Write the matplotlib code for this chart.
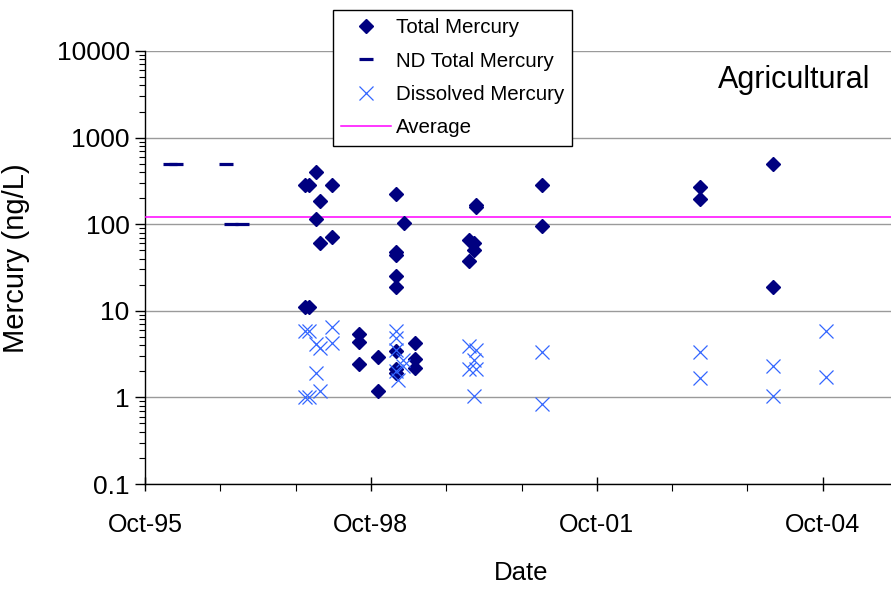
import matplotlib
matplotlib.use("Agg")
import matplotlib.pyplot as plt
import matplotlib.dates as mdates
from matplotlib.ticker import FuncFormatter, LogLocator, NullFormatter
import pandas as pd

plt.rcParams['font.family'] = ['Liberation Sans', 'DejaVu Sans']

# Total mercury detections (ng/L)
total_dates = [
    '1997-11-15', '1997-11-15', '1997-12-04', '1997-12-04',
    '1998-01-06', '1998-01-06', '1998-01-28', '1998-01-28',
    '1998-03-24', '1998-03-24',
    '1998-08-04', '1998-08-04', '1998-08-04',
    '1998-11-05', '1998-11-05',
    '1999-01-29', '1999-01-29', '1999-01-29', '1999-01-29', '1999-01-29',
    '1999-01-29', '1999-01-29', '1999-01-29',
    '1999-03-10',
    '1999-05-02', '1999-05-02', '1999-05-02',
    '2000-01-21', '2000-01-21', '2000-02-14', '2000-02-14',
    '2000-02-22', '2000-02-22',
    '2001-01-06', '2001-01-06',
    '2003-02-13', '2003-02-13',
    '2004-02-03', '2004-02-03',
]
total_values = [
    280, 11, 280, 11,
    400, 115, 185, 60,
    280, 71,
    5.4, 4.4, 2.4,
    2.9, 1.2,
    225, 48, 44, 25, 19,
    3.4, 2.1, 1.9,
    103,
    4.3, 2.8, 2.2,
    66, 38, 60, 51,
    165, 160,
    280, 96,
    270, 195,
    490, 19,
]

# Non-detect total mercury (reporting limits, ng/L)
nd_dates = ['1996-01-30', '1996-02-28', '1996-10-29', '1996-11-21', '1997-01-13']
nd_values = [500, 500, 500, 100, 100]

# Dissolved mercury (ng/L)
dissolved_dates = [
    '1997-11-15', '1997-11-15', '1997-12-04', '1997-12-04',
    '1998-01-06', '1998-01-06', '1998-01-28', '1998-01-28',
    '1998-03-24', '1998-03-24',
    '1999-01-29', '1999-01-29', '1999-01-29', '1999-01-29',
    '1999-02-09',
    '1999-03-08', '1999-03-08',
    '2000-01-21', '2000-01-21', '2000-02-14', '2000-02-14',
    '2000-02-22', '2000-02-22',
    '2001-01-06', '2001-01-06',
    '2003-02-13', '2003-02-13',
    '2004-02-03', '2004-02-03',
    '2004-10-16', '2004-10-16',
]
dissolved_values = [
    5.8, 1.0, 5.8, 1.0,
    4.1, 1.9, 3.7, 1.2,
    6.5, 4.3,
    5.9, 4.9, 3.5, 2.0,
    1.6,
    2.7, 2.3,
    3.9, 2.1, 2.7, 1.04,
    3.5, 2.1,
    3.3, 0.84,
    3.3, 1.67,
    2.3, 1.04,
    5.9, 1.73,
]

average_value = 120
x_start, x_end = '1995-10-01', '2005-10-01'

navy = '#000080'
blue = '#3366FF'

fig = plt.figure(figsize=(8.91, 5.90), dpi=100)
ax = fig.add_axes([145 / 891, 1 - 484 / 590, (898 - 145) / 891, (484 - 51) / 590])

ax.plot(pd.to_datetime(total_dates), total_values, linestyle='none', marker='D',
        ms=7.1, color=navy, mec=navy, label='Total Mercury', zorder=4)
ax.plot(pd.to_datetime(nd_dates), nd_values, linestyle='none', marker='_',
        ms=10, mew=2.3, color=navy, label='ND Total Mercury', zorder=4)
ax.plot(pd.to_datetime(dissolved_dates), dissolved_values, linestyle='none', marker='x',
        ms=10.5, mew=0.9, color=blue, label='Dissolved Mercury', zorder=5)
ax.axhline(average_value, color='#FF00FF', lw=1.1, label='Average', zorder=3)

ax.set_yscale('log')
ax.set_ylim(0.1, 10000)
ax.set_xlim(pd.Timestamp(x_start), pd.Timestamp(x_end))

ax.yaxis.set_major_locator(LogLocator(base=10, numticks=10))
ax.yaxis.set_major_formatter(FuncFormatter(lambda v, _: f"{v:g}"))
ax.yaxis.set_minor_locator(LogLocator(base=10, subs=range(2, 10), numticks=20))
ax.yaxis.set_minor_formatter(NullFormatter())

ax.xaxis.set_major_locator(mdates.YearLocator(3, month=10, day=1))
ax.xaxis.set_minor_locator(mdates.YearLocator(1, month=10, day=1))
ax.xaxis.set_major_formatter(mdates.DateFormatter('%b-%y'))

ax.grid(axis='y', which='major', color='#9a9a9a', lw=1.0)
ax.set_axisbelow(True)

for s in ('top', 'right'):
    ax.spines[s].set_visible(False)
for s in ('left', 'bottom'):
    ax.spines[s].set_color('black')
    ax.spines[s].set_linewidth(1.0)

ax.tick_params(axis='y', which='major', direction='out', length=7, width=1, labelsize=19, pad=4)
ax.tick_params(axis='y', which='minor', direction='out', length=4, width=0.8)
ax.tick_params(axis='x', which='major', direction='inout', length=10, width=1, labelsize=18, pad=16)
ax.tick_params(axis='x', which='minor', direction='out', length=5, width=0.8)

ax.set_xlabel('Date', fontsize=18.5, labelpad=17)
ax.set_ylabel('Mercury (ng/L)', fontsize=21)
ax.yaxis.set_label_coords(30 / 891, 1 - 258 / 590, transform=fig.transFigure)

ax.text(870 / 891, 1 - 80 / 590, 'Agricultural', transform=fig.transFigure,
        fontsize=22, ha='right', va='center')

leg = fig.legend(loc='upper left', bbox_to_anchor=(333 / 891, 1 - 10 / 590),
                 fontsize=14.8, frameon=True, fancybox=False, edgecolor='black',
                 framealpha=1, borderpad=0.4, labelspacing=0.7,
                 handlelength=2.4, handletextpad=0.25, borderaxespad=0)
leg.get_frame().set_linewidth(1.0)

fig.savefig('out.png', dpi=100)
